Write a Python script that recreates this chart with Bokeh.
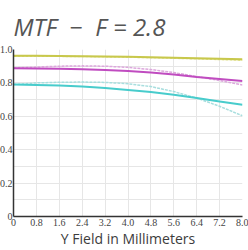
from bokeh.plotting import figure
from bokeh.models import FixedTicker
from bokeh.embed import file_html
from bokeh.resources import INLINE

# Field positions (mm)
field = [0, 0.8, 1.6, 2.4, 3.2, 4.0, 4.8, 5.6, 6.4, 7.2, 8.0]

# MTF curves (solid = sagittal, light = tangential)
yellow_solid = [0.963, 0.962, 0.961, 0.960, 0.958, 0.956, 0.954, 0.951, 0.948, 0.945, 0.942]
yellow_light = [0.960, 0.960, 0.959, 0.958, 0.956, 0.954, 0.951, 0.948, 0.944, 0.940, 0.936]
magenta_solid = [0.887, 0.886, 0.884, 0.881, 0.877, 0.871, 0.862, 0.850, 0.836, 0.824, 0.812]
magenta_light = [0.890, 0.895, 0.900, 0.902, 0.900, 0.893, 0.880, 0.862, 0.838, 0.814, 0.788]
cyan_solid = [0.790, 0.788, 0.785, 0.779, 0.770, 0.758, 0.746, 0.729, 0.709, 0.689, 0.669]
cyan_light = [0.790, 0.800, 0.804, 0.805, 0.803, 0.795, 0.778, 0.748, 0.709, 0.660, 0.603]

x_ticks = [0, 0.8, 1.6, 2.4, 3.2, 4.0, 4.8, 5.6, 6.4, 7.2, 8.0]
x_tick_labels = ["0", "0.8", "1.6", "2.4", "3.2", "4.0", "4.8", "5.6", "6.4", "7.2", "8.0"]
y_ticks = [0, 0.2, 0.4, 0.6, 0.8, 1.0]
y_tick_labels = ["0", "0.2", "0.4", "0.6", "0.8", "1.0"]
y_grid = [0, 0.1, 0.2, 0.3, 0.4, 0.5, 0.6, 0.7, 0.8, 0.9, 1.0]

p = figure(width=252, height=250, x_range=(0, 8), y_range=(0, 1),
           output_backend="svg", toolbar_location=None,
           min_border_left=12, min_border_right=6,
           min_border_top=44, min_border_bottom=34,
           styles={"position": "absolute", "left": "-4px", "top": "0px"})

p.outline_line_color = None
p.background_fill_color = "white"
p.border_fill_color = "white"

# Title
p.title.text = "MTF\u00a0\u00a0\u2212\u00a0\u00a0F = 2.8"
p.title.text_font = "Open Sans"
p.title.text_font_style = "italic"
p.title.text_font_size = "24px"
p.title.text_color = "#555555"
p.title.align = "left"
p.title.standoff = 14

# grids
p.xgrid.ticker = FixedTicker(ticks=x_ticks)
p.ygrid.ticker = FixedTicker(ticks=y_grid)
for g in (p.xgrid, p.ygrid):
    g.grid_line_color = "#e6e6e6"
    g.grid_line_width = 1

# axes
p.xaxis.ticker = FixedTicker(ticks=x_ticks)
p.xaxis.major_label_overrides = {t: s for t, s in zip(x_ticks, x_tick_labels)}
p.yaxis.ticker = FixedTicker(ticks=y_ticks)
p.yaxis.major_label_overrides = {t: s for t, s in zip(y_ticks, y_tick_labels)}
for ax in (p.xaxis, p.yaxis):
    ax.axis_line_color = "#333333"
    ax.axis_line_width = 1.5
    ax.major_tick_line_color = None
    ax.minor_tick_line_color = None
    ax.major_tick_out = 0
    ax.major_tick_in = 0
    ax.major_label_text_font = "Liberation Sans Narrow"
    ax.major_label_text_font_size = "10px"
    ax.major_label_text_color = "#444444"
    ax.major_label_standoff = 2
p.yaxis.major_label_standoff = 1

p.xaxis.axis_label = "Y Field in Millimeters"
p.xaxis.axis_label_text_font = "Open Sans"
p.xaxis.axis_label_text_font_style = "normal"
p.xaxis.axis_label_text_font_size = "14px"
p.xaxis.axis_label_text_color = "#3c3c3c"
p.xaxis.axis_label_standoff = 0

# curves
p.line(field, yellow_light, line_color="#e0e08a", line_width=1.5, line_dash="3 1")
p.line(field, yellow_solid, line_color="#c8c84c", line_width=2)
p.line(field, magenta_light, line_color="#dca8dc", line_width=1.5, line_dash="3 1")
p.line(field, magenta_solid, line_color="#c04cc0", line_width=2)
p.line(field, cyan_light, line_color="#a8dede", line_width=1.5, line_dash="3 1")
p.line(field, cyan_solid, line_color="#48cccc", line_width=2)

open("out.html", "w").write(file_html(p, INLINE))
